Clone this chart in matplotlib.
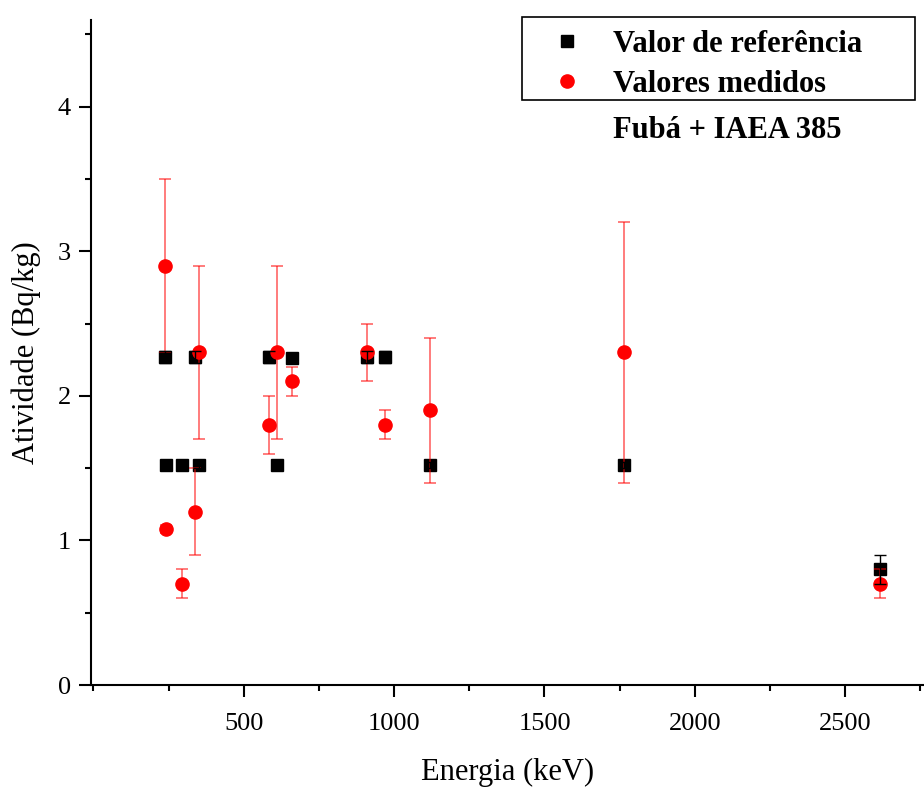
import matplotlib
matplotlib.use('Agg')
import matplotlib.pyplot as plt
from matplotlib.ticker import MultipleLocator
from matplotlib.patches import Rectangle

plt.rcParams['font.family'] = ['Liberation Serif', 'DejaVu Serif']

# energias (keV)
energia = [238.6, 242.0, 295.2, 338.3, 351.9, 583.2, 609.3, 661.7, 911.2, 969.0, 1120.3, 1764.5, 2614.5]
# valor de referencia
ref = [2.27, 1.52, 1.52, 2.27, 1.52, 2.27, 1.52, 2.26, 2.27, 2.27, 1.52, 1.52, 0.80]
ref_err = [0.04, 0.02, 0.02, 0.04, 0.02, 0.04, 0.02, 0.03, 0.04, 0.04, 0.02, 0.02, 0.10]
# valores medidos
med = [2.90, 1.08, 0.70, 1.20, 2.30, 1.80, 2.30, 2.10, 2.30, 1.80, 1.90, 2.30, 0.70]
med_err = [0.60, 0.03, 0.10, 0.30, 0.60, 0.20, 0.60, 0.10, 0.20, 0.10, 0.50, 0.90, 0.10]

fig = plt.figure(figsize=(9.24, 7.89), dpi=100)
ax = fig.add_axes([91/924, 104/789, 833/924, 665/789])

h1, = ax.plot(energia, ref, ls='none', marker='s', ms=8.5, color='black',
              label='Valor de refer\u00eancia', zorder=2)
ax.errorbar(energia, med, yerr=med_err, fmt='none', ecolor='red', alpha=0.6,
            elinewidth=1.2, capsize=4, capthick=1.2, zorder=3)
h2, = ax.plot(energia, med, ls='none', marker='o', ms=9.5, color='red',
              label='Valores medidos', zorder=4)
ax.errorbar(energia, ref, yerr=ref_err, fmt='none', ecolor='black',
            elinewidth=1, capsize=4, capthick=1, zorder=5)

ax.set_xlim(-8, 2762)
ax.set_ylim(0, 4.6)
ax.xaxis.set_major_locator(MultipleLocator(500))
ax.xaxis.set_minor_locator(MultipleLocator(250))
ax.yaxis.set_major_locator(MultipleLocator(1))
ax.yaxis.set_minor_locator(MultipleLocator(0.5))
ax.set_xticks([500, 1000, 1500, 2000, 2500])

for s in ['top', 'right']:
    ax.spines[s].set_visible(False)
for s in ['left', 'bottom']:
    ax.spines[s].set_linewidth(1.5)
ax.tick_params(which='major', length=8.5, width=1.5, labelsize=19)
ax.tick_params(axis='x', which='major', pad=12)
ax.tick_params(axis='y', which='major', pad=6)
ax.tick_params(which='minor', length=4, width=1.5)

ax.set_xlabel('Energia (keV)', fontsize=22, labelpad=16)
ax.set_ylabel('Atividade (Bq/kg)', fontsize=22, labelpad=12)

# moldura da legenda
fig.patches.append(Rectangle((522/924, 1 - 100/789), 393/924, 83/789,
                             transform=fig.transFigure, fill=False,
                             ec='black', lw=1.2))
leg = ax.legend(handles=[h1, h2], loc='upper left',
                bbox_to_anchor=(552/924, 1 - 30/789), bbox_transform=fig.transFigure,
                borderaxespad=0, frameon=False,
                prop={'size': 22, 'weight': 'bold'}, handlelength=1.0,
                handletextpad=1.0, borderpad=0, labelspacing=0.36)

fig.text(613/924, 1 - 130/789, 'Fub\u00e1 + IAEA 385', fontsize=22,
         fontweight='bold', va='center')

plt.savefig('out.png')
